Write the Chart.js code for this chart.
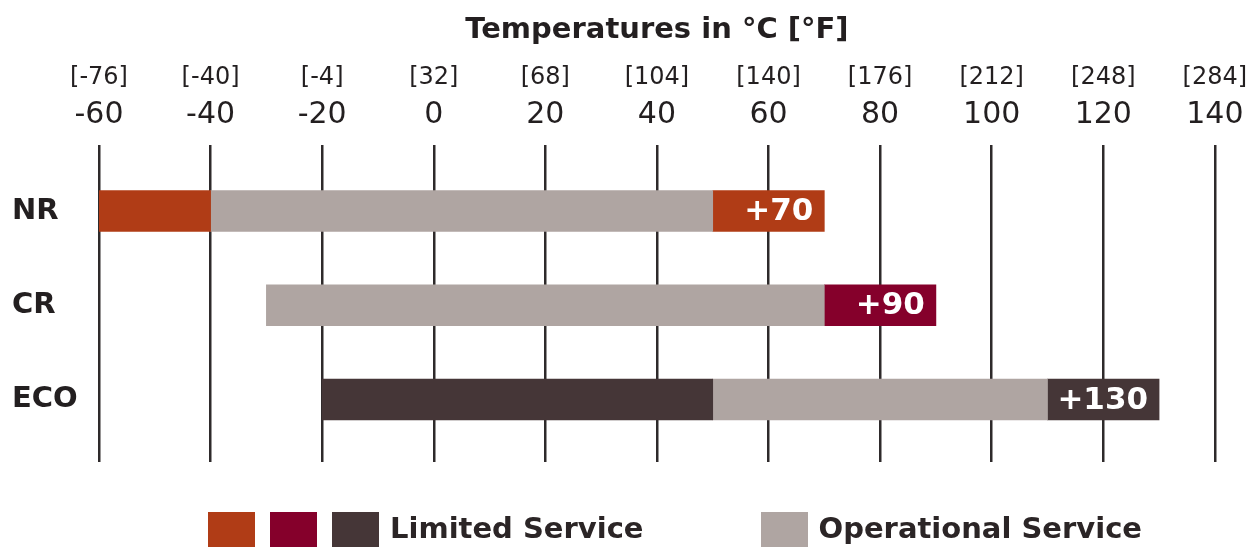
<!DOCTYPE html>
<html><head><meta charset="utf-8">
<script src="https://cdn.jsdelivr.net/npm/chart.js@4"></script>
<style>
html,body{margin:0;padding:0;background:#fff;overflow:hidden;}
#wrap{position:relative;width:1255px;height:547px;overflow:hidden;}
canvas{display:block;}
#legend{position:absolute;left:208px;top:512px;display:flex;align-items:flex-start;font-family:'DejaVu Sans',sans-serif;font-weight:700;font-size:29px;line-height:1;color:#2b2526;white-space:nowrap;}
#legend .sw{width:47px;height:40px;flex:none;}
#legend .txt{margin-top:1.5px;}
</style></head>
<body>
<div id="wrap"><canvas id="c" width="1255" height="547"></canvas><div id="legend"></div></div>
<script>
const categories = ['NR', 'CR', 'ECO'];
const celsiusTicks = [-60, -40, -20, 0, 20, 40, 60, 80, 100, 120, 140];
const fahrenheitTicks = ['[-76]', '[-40]', '[-4]', '[32]', '[68]', '[104]', '[140]', '[176]', '[212]', '[248]', '[284]'];
const lowLimited = [[-60, -40], null, [-20, 50]];
const operational = [[-40, 50], [-30, 70], [50, 110]];
const highLimited = [[50, 70], [70, 90], [110, 130]];
const maxLabels = ['+70', '+90', '+130'];
const limitedColors = ['#B03C16', '#85002B', '#453637'];
const operationalColor = '#AFA5A2';
const legendGroups = [
  { colors: limitedColors, label: 'Limited Service' },
  { colors: [operationalColor], label: 'Operational Service' }
];
const titleText = 'Temperatures in \u00B0C [\u00B0F]';

const FONT = "'DejaVu Sans', sans-serif";
const TEXT = '#231F20';

function toPoints(ranges) {
  return ranges.map((r, i) => r ? { x: r, y: i } : null).filter(Boolean);
}
function colorsFor(ranges, colors) {
  return ranges.map((r, i) => r ? colors[i] : null).filter(Boolean);
}

const barLabelPlugin = {
  id: 'barLabels',
  afterDatasetsDraw(chart) {
    const ctx = chart.ctx;
    const meta = chart.getDatasetMeta(2);
    ctx.save();
    ctx.font = `700 31px ${FONT}`;
    ctx.fillStyle = '#ffffff';
    ctx.textAlign = 'right';
    ctx.textBaseline = 'middle';
    meta.data.forEach((el, i) => {
      ctx.fillText(maxLabels[i], el.x - 11, el.y + 1);
    });
    ctx.restore();
  }
};

new Chart(document.getElementById('c'), {
  type: 'bar',
  data: {
    datasets: [
      { label: 'Limited Service (low)', data: toPoints(lowLimited), backgroundColor: colorsFor(lowLimited, limitedColors) },
      { label: 'Operational Service', data: toPoints(operational), backgroundColor: operationalColor },
      { label: 'Limited Service (high)', data: toPoints(highLimited), backgroundColor: colorsFor(highLimited, limitedColors) }
    ]
  },
  options: {
    indexAxis: 'y',
    responsive: false,
    animation: false,
    events: [],
    grouped: false,
    barThickness: 41,
    borderSkipped: false,
    layout: { padding: { left: 12, right: 33, top: 0, bottom: 85 } },
    scales: {
      x: {
        type: 'linear', position: 'top', min: -60, max: 140,
        afterBuildTicks: s => { s.ticks = celsiusTicks.map(v => ({ value: v })); },
        afterFit: s => { s.height = 55; },
        ticks: { callback: (v, i) => String(celsiusTicks[i]), font: { family: FONT, size: 30, lineHeight: 1.2 }, color: TEXT, padding: 11.5, maxRotation: 0, autoSkip: false },
        grid: { color: '#2e2a2b', lineWidth: 2.5, drawTicks: false },
        border: { display: false }
      },
      xF: {
        type: 'linear', position: 'top', weight: 1, min: -60, max: 140,
        afterBuildTicks: s => { s.ticks = celsiusTicks.map(v => ({ value: v })); },
        afterFit: s => { s.height = 28; },
        ticks: { callback: (v, i) => fahrenheitTicks[i], font: { family: FONT, size: 24, lineHeight: 1.04 }, color: TEXT, padding: 0, maxRotation: 0, autoSkip: false },
        grid: { display: false, drawTicks: false },
        border: { display: false }
      },
      y: {
        type: 'linear', reverse: true, offset: false, min: -0.7, max: 2.663,
        afterBuildTicks: s => { s.ticks = categories.map((c, i) => ({ value: i })); },
        afterFit: s => { s.width = 87; },
        ticks: { callback: (v, i) => categories[i], font: { family: FONT, size: 29, weight: '700' }, color: TEXT, crossAlign: 'far', autoSkip: false },
        grid: { display: false, drawTicks: false },
        border: { display: false }
      }
    },
    plugins: {
      legend: { display: false },
      tooltip: { enabled: false },
      title: { display: true, fullSize: false, text: titleText, font: { family: FONT, size: 29, weight: '700' }, color: TEXT, padding: { top: 12.6, bottom: 14.6 } }
    }
  },
  plugins: [barLabelPlugin]
});

const legendEl = document.getElementById('legend');
legendGroups.forEach((g, gi) => {
  g.colors.forEach((c, ci) => {
    const sw = document.createElement('div');
    sw.className = 'sw';
    sw.style.background = c;
    sw.style.marginRight = (ci < g.colors.length - 1) ? '15px' : '11px';
    legendEl.appendChild(sw);
  });
  const t = document.createElement('div');
  t.className = 'txt';
  t.textContent = g.label;
  if (gi < legendGroups.length - 1) t.style.marginRight = '117px';
  legendEl.appendChild(t);
});
</script>
</body></html>
